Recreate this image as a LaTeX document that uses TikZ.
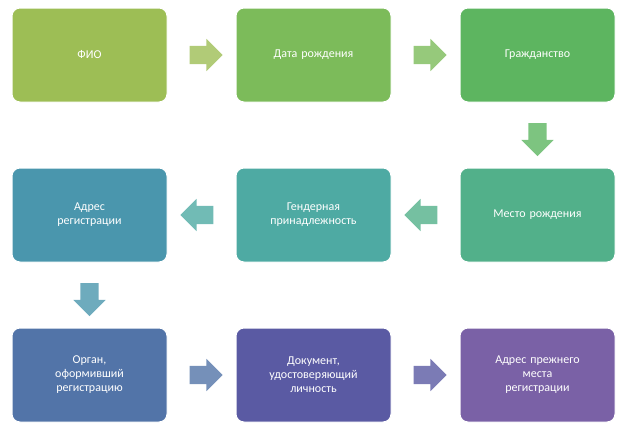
\documentclass[tikz,border=0pt]{standalone}
\usepackage{fontspec}
\setmainfont{Carlito}
\usetikzlibrary{shapes.arrows}
\definecolor{cA}{HTML}{9DBE55}
\definecolor{cB}{HTML}{7CBB5A}
\definecolor{cC}{HTML}{5DB560}
\definecolor{cD}{HTML}{52B08A}
\definecolor{cE}{HTML}{4EAAA3}
\definecolor{cF}{HTML}{4A96AD}
\definecolor{cG}{HTML}{5274A8}
\definecolor{cH}{HTML}{5A5AA3}
\definecolor{cI}{HTML}{7A61A6}
\tikzset{
  stepbox/.style={draw=white, line width=1pt, rounded corners=8pt, minimum width=155pt,
    minimum height=94pt, text width=140pt, align=center, text=white, font=\fontsize{12}{14}\selectfont,
    drop shadow/.style={}},
  blockarr/.style={single arrow, draw=none, inner sep=0pt, minimum width=32pt,
    minimum height=33pt, single arrow head extend=7pt, text width=18pt, text height=9pt, text depth=9pt}
}
\begin{document}
\begin{tikzpicture}[x=1pt,y=-1pt]
\useasboundingbox (0,0) rectangle (630,432);
% boxes
\node[stepbox, fill=cA] (fio) at (89.5,55) {ФИО};
\node[stepbox, fill=cB] (data) at (313.5,55) {Дата рождения};
\node[stepbox, fill=cC] (grazhd) at (537.5,55) {Гражданство};
\node[stepbox, fill=cD] (mesto) at (537.5,215) {Место рождения};
\node[stepbox, fill=cE] (gender) at (313.5,215) {Гендерная\\принадлежность};
\node[stepbox, fill=cF] (adres) at (89.5,215) {Адрес\\регистрации};
\node[stepbox, fill=cG] (organ) at (89.5,375) {Орган,\\оформивший\\регистрацию};
\node[stepbox, fill=cH] (doc) at (313.5,375) {Документ,\\удостоверяющий\\личность};
\node[stepbox, fill=cI] (prev) at (537.5,375) {Адрес прежнего\\места\\регистрации};
% arrows
\node[blockarr, fill=cA!80!white] (a1) at (201.5,55) {};
\node[blockarr, fill=cB!80!white] (a2) at (425.5,55) {};
\node[blockarr, fill=cC!80!white, shape border rotate=270] (a3) at (537.5,135) {};
\node[blockarr, fill=cD!80!white, shape border rotate=180] (a4) at (425.5,215) {};
\node[blockarr, fill=cE!80!white, shape border rotate=180] (a5) at (201.5,215) {};
\node[blockarr, fill=cF!80!white, shape border rotate=270] (a6) at (89.5,295) {};
\node[blockarr, fill=cG!80!white] (a7) at (201.5,375) {};
\node[blockarr, fill=cH!80!white] (a8) at (425.5,375) {};
\end{tikzpicture}
\end{document}
